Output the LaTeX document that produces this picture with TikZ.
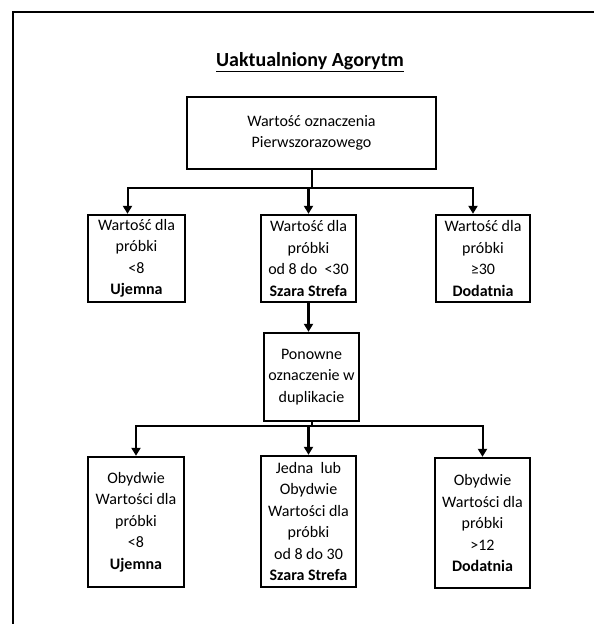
\documentclass[tikz,border=0pt]{standalone}
\usepackage{fontspec}
\setmainfont{Carlito}
\usepackage{tikz}
\usetikzlibrary{arrows.meta,calc}

\tikzset{
    stepbox/.style={draw, line width=2.4pt, rectangle, align=center, inner sep=0pt,
        font=\fontsize{16}{21.5}\selectfont},
    flow/.style={line width=2pt, -{Triangle[width=9pt,length=8pt]}}
}

\begin{document}
\begin{tikzpicture}[x=1pt,y=-1pt]
    %% Background
    \useasboundingbox (0,0) rectangle (594,624);
    \draw[line width=2pt] (13,624) to (13,12) to (594,12);
    %% Title
    \node (title) at (310,62) {\fontsize{20}{24}\selectfont\bfseries\underline{Uaktualniony Agorytm}};
    %% First level
    \node[stepbox, minimum width=249pt, minimum height=72pt] (first) at (311.5,133)
        {Wartość oznaczenia\\Pierwszorazowego};
    \node[stepbox, minimum width=97pt, minimum height=87pt] (negA) at (136.5,258.5)
        {Wartość dla\\próbki\\<8\\\textbf{Ujemna}};
    \node[stepbox, minimum width=95pt, minimum height=87pt] (greyA) at (308.5,258.5)
        {Wartość dla\\próbki\\od 8 do \ <30\\\textbf{Szara Strefa}};
    \node[stepbox, minimum width=94pt, minimum height=87pt] (posA) at (483,258.5)
        {Wartość dla\\próbki\\≥30\\\textbf{Dodatnia}};
    %% Retest
    \node[stepbox, minimum width=95pt, minimum height=88pt] (dup) at (311.5,377)
        {Ponowne\\oznaczenie w\\duplikacie};
    %% Second level
    \node[stepbox, minimum width=96pt, minimum height=130pt] (negB) at (136,522)
        {Obydwie\\Wartości dla\\próbki\\<8\\\textbf{Ujemna}};
    \node[stepbox, minimum width=95pt, minimum height=131pt] (greyB) at (308.5,521.5)
        {Jedna \ lub\\Obydwie\\Wartości dla\\próbki\\od 8 do 30\\\textbf{Szara Strefa}};
    \node[stepbox, minimum width=95pt, minimum height=130pt] (posB) at (482.5,523)
        {Obydwie\\Wartości dla\\próbki\\>12\\\textbf{Dodatnia}};
    %% Connectors
    \coordinate (splitA) at (first.south |- 0,188);
    \coordinate (splitB) at (dup.south |- 0,426);
    \draw[line width=2pt] (first.south) to (splitA);
    \draw[flow] (splitA) -| ([xshift=-9pt]negA.north);
    \draw[flow] (splitA) -| ([xshift=-10pt]posA.north);
    \draw[flow, line width=2.6pt] (splitA) to (splitA -| greyA.north) to (greyA.north);
    \draw[flow, line width=2.6pt] (greyA.south) to (greyA.south |- dup.north);
    \draw[line width=2pt] (dup.south) to (splitB);
    \draw[flow] (splitB) -| (negB.north);
    \draw[flow] (splitB) -| (posB.north);
    \draw[flow, line width=2.6pt] (splitB) to (splitB -| greyB.north) to (greyB.north);
\end{tikzpicture}
\end{document}
